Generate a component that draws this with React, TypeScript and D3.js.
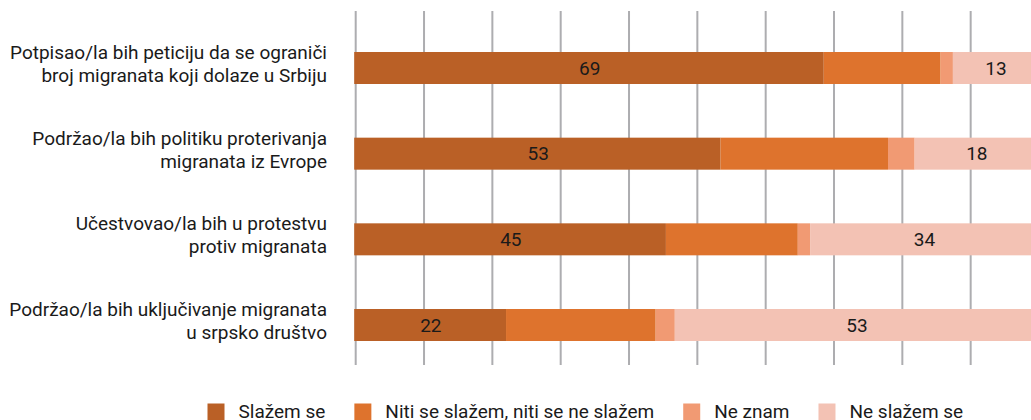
import React, { useEffect, useRef } from "react";
import * as d3 from "d3";

const categories: string[][] = [
  ["Potpisao/la bih peticiju da se ograniči", "broj migranata koji dolaze u Srbiju"],
  ["Podržao/la bih politiku proterivanja", "migranata iz Evrope"],
  ["Učestvovao/la bih u protestvu", "protiv migranata"],
  ["Podržao/la bih uključivanje migranata", "u srpsko društvo"],
];
const seriesNames = ["Slažem se", "Niti se slažem, niti se ne slažem", "Ne znam", "Ne slažem se"];
const slazemSe = [68.5, 53.4, 45.4, 22.0];
const niti = [17.1, 24.5, 19.3, 21.9];
const neZnam = [1.8, 3.9, 1.8, 2.8];
const neSlazemSe = [12.6, 18.2, 33.5, 53.3];
const colors = ["#BA6026", "#DE732D", "#F19A73", "#F3C2B4"];
const labeledSeries = [0, 3];
const ticks = [0, 10, 20, 30, 40, 50, 60, 70, 80, 90];

const W = 1031;
const H = 420;
const FONT = "Roboto, 'Noto Sans', sans-serif";
const FS = 19;

export default function App() {
  const ref = useRef<SVGSVGElement | null>(null);

  useEffect(() => {
    const svg = d3.select(ref.current);
    svg.selectAll("*").remove();

    const x = d3.scaleLinear().domain([0, 100]).range([355.7, 1039]);
    const keys = categories.map((c) => c.join(" "));
    const y = d3.scalePoint<string>().domain(keys).range([68, 325]);
    const barH = 32;

    // gridlines
    svg
      .append("g")
      .selectAll("line")
      .data(ticks)
      .join("line")
      .attr("x1", (d) => x(d))
      .attr("x2", (d) => x(d))
      .attr("y1", 11)
      .attr("y2", 365)
      .attr("stroke", "#adadb0")
      .attr("stroke-width", 2);

    const series = [slazemSe, niti, neZnam, neSlazemSe];
    const rows = keys.map((k, i) => {
      let acc = 0;
      return series.map((s, si) => {
        const seg = { key: k, si, v: s[i], x0: acc, x1: acc + s[i] };
        acc += s[i];
        return seg;
      });
    });

    const g = svg.append("g");
    rows.forEach((segs) => {
      g.selectAll(null)
        .data(segs)
        .join("rect")
        .attr("x", (d) => (d.x0 === 0 ? x(d.x0) - 1.5 : x(d.x0)))
        .attr("width", (d) => x(d.x1) - x(d.x0) + (d.x0 === 0 ? 1.5 : 0))
        .attr("y", (d) => (y(d.key) as number) - barH / 2)
        .attr("height", barH)
        .attr("fill", (d) => colors[d.si]);

      g.selectAll(null)
        .data(segs.filter((d) => labeledSeries.includes(d.si)))
        .join("text")
        .attr("x", (d) => x((d.x0 + d.x1) / 2))
        .attr("y", (d) => (y(d.key) as number))
        .attr("dy", "0.35em")
        .attr("text-anchor", "middle")
        .attr("font-family", FONT)
        .attr("font-size", FS)
        .attr("fill", "#1a1a1a")
        .text((d) => Math.round(d.v));
    });

    // category labels
    const lab = svg.append("g");
    categories.forEach((lines, i) => {
      const cy = (y(keys[i]) as number) - 4;
      const lh = 23;
      const t = lab
        .append("text")
        .attr("text-anchor", "end")
        .attr("font-family", FONT)
        .attr("font-size", FS)
        .attr("fill", "#1a1a1a");
      lines.forEach((ln, li) => {
        t.append("tspan")
          .attr("x", 327)
          .attr("y", cy + (li - (lines.length - 1) / 2) * lh)
          .attr("dy", "0.35em")
          .text(ln);
      });
    });

    // legend
    const leg = svg.append("g");
    let lx = 207.5;
    seriesNames.forEach((name, i) => {
      leg
        .append("rect")
        .attr("x", lx)
        .attr("y", 403.5)
        .attr("width", 17)
        .attr("height", 17)
        .attr("fill", colors[i]);
      const t = leg
        .append("text")
        .attr("x", lx + 31)
        .attr("y", 417.5)
        .attr("font-family", FONT)
        .attr("font-size", FS)
        .attr("fill", "#1a1a1a")
        .text(name);
      const w = (t.node() as SVGTextElement).getComputedTextLength();
      lx = lx + 31 + w + 29;
    });
  }, []);

  return (
    <svg
      ref={ref}
      width={W}
      height={H}
      style={{ position: "absolute", left: 0, top: 0, overflow: "hidden", background: "#fff" }}
    />
  );
}
